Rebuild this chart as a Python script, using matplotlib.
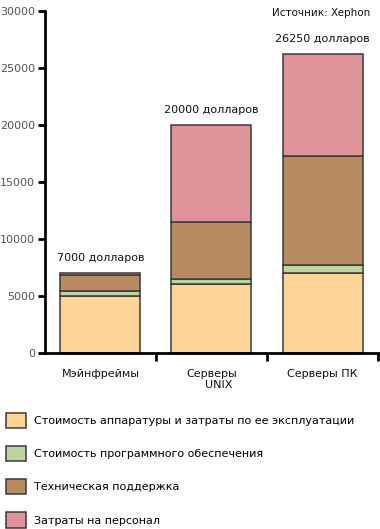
import matplotlib.pyplot as plt
from matplotlib.ticker import FixedLocator, NullFormatter
import numpy as np

categories = ["Мэйнфреймы", "Серверы\n    UNIX", "Серверы ПК"]
series_names = [
    "Стоимость аппаратуры и затраты по ее эксплуатации",
    "Стоимость программного обеспечения",
    "Техническая поддержка",
    "Затраты на персонал",
]
hardware = [5000, 6000, 7000]
software = [400, 500, 750]
support = [1450, 5000, 9500]
personnel = [150, 8500, 9000]
totals = ["7000 долларов", "20000 долларов", "26250 долларов"]
yticks = [0, 5000, 10000, 15000, 20000, 25000, 30000]

colors = ["#fed396", "#bcd4a0", "#b88a60", "#df9297"]

plt.rcParams["font.family"] = ["DejaVu Sans"]
fig = plt.figure(figsize=(3.8, 5.29), dpi=100)
ax = fig.add_axes([0.118, 0.333, 0.877, 0.646])

x = np.arange(len(categories))
bottom = np.zeros(len(categories))
handles = []
for vals, col, name in zip([hardware, software, support, personnel], colors, series_names):
    b = ax.bar(x, vals, width=0.72, bottom=bottom, color=col,
               edgecolor="#3a3a3a", linewidth=1.1, label=name)
    handles.append(b)
    bottom += np.array(vals)

# total above each stack
for xi, top, lab in zip(x, bottom, totals):
    ax.text(xi, top + 900, lab, ha="center", va="bottom", fontsize=8, color="#111111")

ax.set_xlim(-0.5, 2.5)
ax.set_ylim(0, 30000)
ax.set_yticks(yticks)
ax.set_yticklabels([str(v) for v in yticks], fontsize=8, color="#555555")
ax.tick_params(axis="y", length=5, width=2, pad=2)

# ticks sit between the categories
ax.xaxis.set_major_locator(FixedLocator([0.5, 1.5, 2.5]))
ax.xaxis.set_major_formatter(NullFormatter())
ax.tick_params(axis="x", length=6, width=2, direction="out")
for xi, lab in zip(x, categories):
    ax.text(xi, -1400, lab, ha="center", va="top", fontsize=8, color="#111111")

for s in ["top", "right"]:
    ax.spines[s].set_visible(False)
for s in ["left", "bottom"]:
    ax.spines[s].set_linewidth(2)

fig.text(0.975, 0.985, "Источник: Xephon", ha="right", va="top", fontsize=7.5, color="#111111")

fig.legend(handles=handles, labels=series_names, loc="upper left",
           bbox_to_anchor=(0.005, 0.228), frameon=False, fontsize=8,
           handlelength=1.75, handleheight=1.75, labelspacing=1.6,
           handletextpad=0.7, borderaxespad=0)

fig.savefig("out.png", dpi=100)
